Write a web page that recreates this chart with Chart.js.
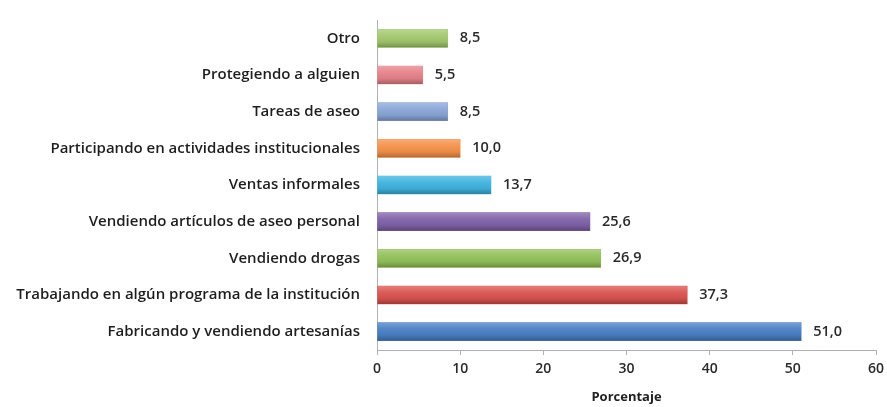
<!DOCTYPE html>
<html>
<head>
<meta charset="utf-8">
<script src="https://cdn.jsdelivr.net/npm/chart.js@4/dist/chart.umd.min.js"></script>
<style>
  html, body { margin: 0; padding: 0; background: #fff; }
  #wrap { width: 887px; height: 407px; }
</style>
</head>
<body>
<div id="wrap"><canvas id="chart" width="887" height="407"></canvas></div>
<script>
// categorías (de arriba hacia abajo)
const categories = [
    'Otro',
    'Protegiendo a alguien',
    'Tareas de aseo',
    'Participando en actividades institucionales',
    'Ventas informales',
    'Vendiendo artículos de aseo personal',
    'Vendiendo drogas',
    'Trabajando en algún programa de la institución',
    'Fabricando y vendiendo artesanías'
];
const values = [8.5, 5.5, 8.5, 10.0, 13.7, 25.6, 26.9, 37.3, 51.0];
const barColors = ['#a3c86e', '#e7828a', '#8aa6d8', '#f5914a', '#3fb3de', '#7f62a8', '#93c15a', '#d9534f', '#4a7fc4'];
const xTicks = [0, 10, 20, 30, 40, 50, 60];

const fmt = v => v.toFixed(1).replace('.', ',');

// brillo tipo cilindro encima de cada barra
const shadePlugin = {
    id: 'shade',
    afterDatasetsDraw(chart) {
        const ctx = chart.ctx;
        chart.getDatasetMeta(0).data.forEach(bar => {
            const h = bar.height, top = bar.y - h / 2;
            const g = ctx.createLinearGradient(0, top, 0, top + h);
            g.addColorStop(0, 'rgba(255,255,255,0.25)');
            g.addColorStop(0.35, 'rgba(255,255,255,0.05)');
            g.addColorStop(0.7, 'rgba(0,0,0,0.05)');
            g.addColorStop(1, 'rgba(0,0,0,0.28)');
            ctx.save();
            ctx.fillStyle = g;
            ctx.fillRect(bar.base, top, bar.x - bar.base, h);
            ctx.restore();
        });
    }
};

// etiquetas de valor al final de cada barra
const valueLabels = {
    id: 'valueLabels',
    afterDatasetsDraw(chart) {
        const ctx = chart.ctx;
        ctx.save();
        ctx.font = '600 14.5px "Open Sans"';
        ctx.fillStyle = '#2a2a2a';
        ctx.textBaseline = 'middle';
        chart.getDatasetMeta(0).data.forEach((bar, i) => {
            ctx.fillText(fmt(values[i]), bar.x + 12, bar.y);
        });
        ctx.restore();
    }
};

new Chart(document.getElementById('chart'), {
    type: 'bar',
    data: {
        labels: categories,
        datasets: [{
            data: values,
            backgroundColor: barColors,
            barThickness: 18
        }]
    },
    options: {
        indexAxis: 'y',
        responsive: false,
        animation: false,
        layout: { padding: { top: 20, right: 0, left: 0, bottom: 0 } },
        plugins: { legend: { display: false }, tooltip: { enabled: false } },
        scales: {
            x: {
                min: 0, max: 60,
                afterBuildTicks: s => { s.ticks = xTicks.map(v => ({ value: v })); },
                afterFit: s => { s.height = 57; s.paddingRight = 11; },
                grid: { drawOnChartArea: false, drawTicks: true, tickLength: 5, color: '#b0b0b0' },
                border: { color: '#b0b0b0' },
                ticks: { color: '#2a2a2a', font: { family: 'Open Sans', size: 14, weight: '600' }, padding: 6 },
                title: {
                    display: true, text: 'Porcentaje', color: '#222',
                    font: { family: 'Open Sans', size: 13, weight: 'bold' },
                    padding: { top: 2, bottom: 2 }
                }
            },
            y: {
                afterFit: s => { s.width = 377; },
                grid: { display: false },
                border: { color: '#b0b0b0' },
                ticks: { color: '#1e1e1e', font: { family: 'Open Sans', size: 15, weight: '600' }, padding: 9 }
            }
        }
    },
    plugins: [shadePlugin, valueLabels]
});
</script>
</body>
</html>
